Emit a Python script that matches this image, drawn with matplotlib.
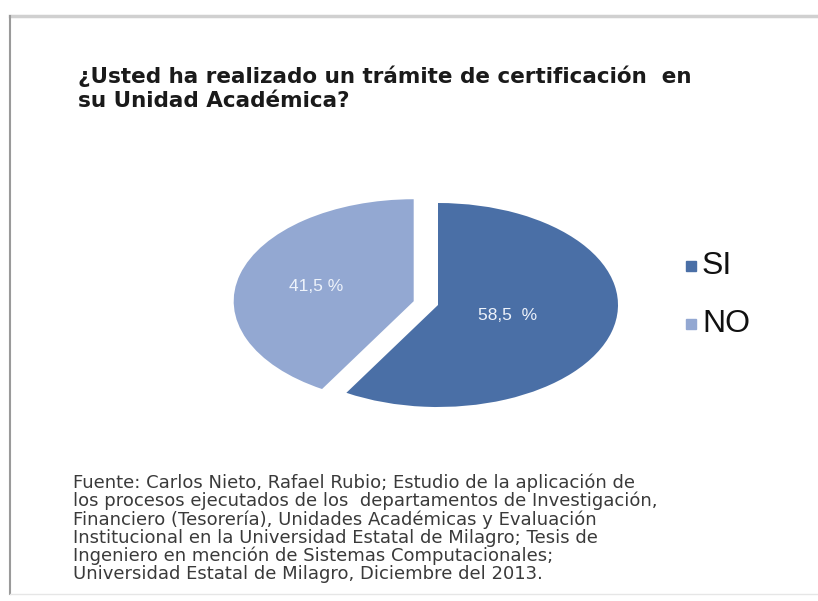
import numpy as np
import matplotlib
matplotlib.use("Agg")
import matplotlib.pyplot as plt
from matplotlib.patches import Rectangle
from matplotlib.lines import Line2D

# data
categories = ["SI", "NO"]
values = [58.5, 41.5]
pct_labels = ["58,5  %", "41,5 %"]
colors = ["#4A6FA6", "#93A8D2"]

TITLE = "¿Usted ha realizado un trámite de certificación  en\nsu Unidad Académica?"
SOURCE = ("Fuente: Carlos Nieto, Rafael Rubio; Estudio de la aplicación de\n"
          "los procesos ejecutados de los  departamentos de Investigación,\n"
          "Financiero (Tesorería), Unidades Académicas y Evaluación\n"
          "Institucional en la Universidad Estatal de Milagro; Tesis de\n"
          "Ingeniero en mención de Sistemas Computacionales;\n"
          "Universidad Estatal de Milagro, Diciembre del 2013.")

W, H = 818, 601
fig = plt.figure(figsize=(W / 100, H / 100), dpi=100)
fig.patch.set_facecolor("white")

def px(x, y):
    return x / W, 1 - y / H

# outer frame like the slide container
fig.add_artist(Line2D([10 / W, 1], [1 - 16 / H, 1 - 16 / H], color="#d0d0d0", lw=2.5))
fig.add_artist(Line2D([10 / W, 10 / W], [1 - 16 / H, 1 - 594 / H], color="#9a9a9a", lw=1.5))
fig.add_artist(Line2D([10 / W, 1], [1 - 594 / H, 1 - 594 / H], color="#e6e6e6", lw=1))

# pie axes: ellipse centre (438, 305), radii 180 x 102 px
cx, cy, rx, ry = 438, 305, 180, 102
lim = 1.3
ax = fig.add_axes([(cx - rx * lim) / W, (H - cy - ry * lim) / H,
                   2 * rx * lim / W, 2 * ry * lim / H])
wedges, _ = ax.pie(values, colors=colors, startangle=90, counterclock=False,
                   explode=[0, 0.14], radius=1,
                   wedgeprops=dict(linewidth=0))
ax.set_aspect("auto")
ax.set_xlim(-lim, lim)
ax.set_ylim(-lim, lim)
ax.axis("off")

label_dist = [0.40, 0.56]
for w, lab, d in zip(wedges, pct_labels, label_dist):
    ang = np.deg2rad((w.theta1 + w.theta2) / 2)
    x0, y0 = w.center
    ax.text(x0 + d * np.cos(ang), y0 + d * np.sin(ang), lab,
            ha="center", va="center", color="#eef3fb",
            fontsize=12.5, family="Liberation Sans")

# title
fig.text(*px(78, 76), TITLE.split("\n")[0], ha="left", va="center", fontsize=15.5,
         fontweight="bold", color="#1a1a1a", family="DejaVu Sans")
fig.text(*px(78, 101), TITLE.split("\n")[1], ha="left", va="center", fontsize=15.5,
         fontweight="bold", color="#1a1a1a", family="DejaVu Sans")

# legend
leg_y = [266, 324]
for cat, col, y in zip(categories, colors, leg_y):
    fig.add_artist(Rectangle(px(686, y + 5), 10 / W, 10 / H, color=col,
                             transform=fig.transFigure))
    fig.text(*px(702, y), cat, ha="left", va="center", fontsize=23,
             color="#111111", family="Liberation Sans")

# source note, one line every ~18 px
src_lines = SOURCE.split("\n")
for i, line in enumerate(src_lines):
    fig.text(*px(73, 483 + i * 18.2), line, ha="left", va="center",
             fontsize=13, color="#3a3a3a", family="DejaVu Sans")

fig.savefig("out.png", dpi=100)
